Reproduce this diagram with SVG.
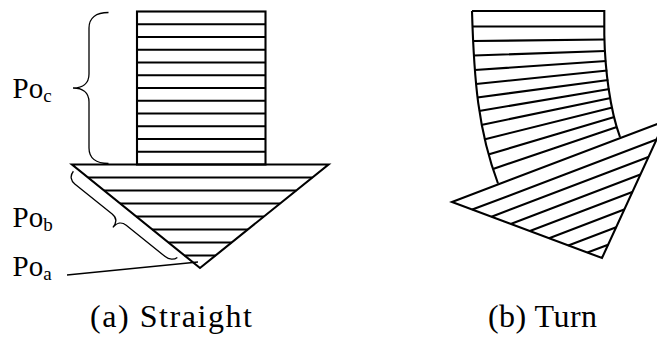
<svg xmlns="http://www.w3.org/2000/svg" width="657" height="339" viewBox="0 0 657 339">
<style>
.o{fill:none;stroke:#000;stroke-width:2.1;stroke-linejoin:miter}
.h{stroke:#000;stroke-width:2.1;fill:none}
.b{fill:none;stroke:#000;stroke-width:1.3}
.t{font-family:"Liberation Serif","Times New Roman",serif;fill:#000}
</style>
<rect width="657" height="339" fill="#fff"/>
<g id="straight-shaft">
<rect class="o" x="137" y="11.5" width="128.5" height="153"/>
<path class="h" d="M137,24.25H265.5M137,37H265.5M137,49.75H265.5M137,62.5H265.5M137,75.25H265.5M137,88H265.5M137,100.75H265.5M137,113.5H265.5M137,126.25H265.5M137,139H265.5M137,151.75H265.5"/>
</g>
<g id="straight-head">
<polygon class="o" points="72,164.5 328.5,164.5 200,268"/>
<path class="h" d="M88.1,177.5H312.4M104.2,190.5H296.2M120.2,203.5H280.1M136.3,216.5H263.9M152.4,229.5H247.8M168.5,242.5H231.7M184.5,255.5H215.5"/>
</g>
<g id="turn-shaft">
<path class="o" d="M472,11H604.3V35C605,70 610,110 620,137"/>
<path class="o" d="M472,11C474,80 478,130 498,183.5"/>
<path class="h" d="M472.4,26.5L604.3,26.5M473,41L604.3,39.5M473.8,55.5L605.2,51M474.8,70L606.2,61M476,84L607.3,70.5M477.3,97.5L608.3,80M479,111L609.5,89M481.2,125L610.8,98M484,139.5L612.3,107.5M488.3,154.5L614.3,117M493,169L616.8,127"/>
</g>
<g id="turn-head">
<polygon class="o" points="452,202 665,121 602,258"/>
<path class="h" d="M472.3,209.6L656.5,139.5M491.5,216.7L648.4,157M510.7,223.9L640.4,174.6M529.9,231.1L632.3,192.1M549.1,238.2L624.2,209.6M568.3,245.4L616.2,227.2M587.5,252.6L608.1,244.7"/>
</g>
<g id="connectors">
<path class="b" d="M108.5,12.5C96,12.5 89,18 89,28L89,74C89,84 82,88 73,88C82,88 89,92 89,102L89,148C89,158 96,163.5 108.5,163.5"/>
<path class="b" transform="translate(72,165) rotate(38.8)" d="M5,4C5,10 9,13 14,13L62,13C68,13 71,17 71,23C71,17 74,13 80,13L130,13C135,13 139,10 140,6"/>
<line class="b" x1="67" y1="275" x2="198" y2="262"/>
</g>
<g id="label-poc"><text class="t" x="12.5" y="97.5" font-size="29">Po<tspan font-size="19" dy="4">c</tspan></text></g>
<g id="label-pob"><text class="t" x="12.5" y="226.5" font-size="29">Po<tspan font-size="19" dy="4">b</tspan></text></g>
<g id="label-poa"><text class="t" x="12.5" y="276" font-size="29">Po<tspan font-size="19" dy="4">a</tspan></text></g>
<g id="caption-a"><text class="t" x="90" y="327" font-size="32" textLength="162" lengthAdjust="spacing">(a) Straight</text></g>
<g id="caption-b"><text class="t" x="488" y="327" font-size="32" textLength="109" lengthAdjust="spacing">(b) Turn</text></g>
</svg>
